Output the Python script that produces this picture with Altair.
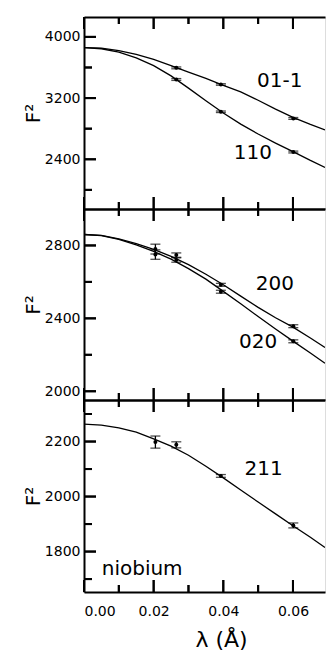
import altair as alt
import pandas as pd

FONT = "DejaVu Sans"
XMAX = 0.0692
W = 241

# ---- data ----
lam_curve = [0.0, 0.005, 0.010, 0.015, 0.020, 0.025, 0.030, 0.035, 0.040,
             0.045, 0.050, 0.055, 0.060, 0.065, 0.0692]
curve_011 = [3860, 3852, 3820, 3772, 3705, 3625, 3540, 3458, 3367, 3280, 3172, 3055, 2948, 2855, 2784]
curve_110 = [3860, 3845, 3800, 3725, 3625, 3490, 3330, 3165, 3005, 2860, 2730, 2612, 2500, 2385, 2294]
curve_200 = [2860, 2855, 2836, 2810, 2778, 2740, 2695, 2642, 2584, 2522, 2460, 2403, 2352, 2292, 2240]
curve_020 = [2860, 2854, 2833, 2803, 2767, 2725, 2673, 2615, 2548, 2480, 2410, 2342, 2275, 2210, 2154]
curve_211 = [2263, 2260, 2250, 2234, 2210, 2183, 2150, 2110, 2068, 2024, 1980, 1937, 1894, 1852, 1815]

lam_p1 = [0.0265, 0.0393, 0.0601]
pts_011 = [3595, 3378, 2934]
err_011 = [12, 10, 12]
pts_110 = [3443, 3021, 2495]
err_110 = [12, 10, 12]

lam_p = [0.0205, 0.0265, 0.0393, 0.0601]
pts_200 = [2780, 2747, 2584, 2357]
err_200 = [27, 12, 8, 8]
pts_020 = [2750, 2720, 2546, 2274]
err_020 = [26, 12, 8, 8]
pts_211 = [2198, 2188, 2075, 1895]
err_211 = [22, 11, 5, 9]

x_major = [0.0, 0.02, 0.04, 0.06]
x_minor = [0.01, 0.03, 0.05]

MAJOR_LEN = 12
MINOR_LEN_X = 7
MINOR_LEN_Y = 8


def curves(names, series):
    rows = []
    for n, ys in zip(names, series):
        for x, y in zip(lam_curve, ys):
            rows.append({"s": n, "x": x, "y": y})
    return pd.DataFrame(rows)


def points(names, lams, vals, errs):
    rows = []
    for n, v, e in zip(names, vals, errs):
        for x, y, d in zip(lams, v, e):
            rows.append({"s": n, "x": x, "y": y, "lo": y - d, "hi": y + d})
    return pd.DataFrame(rows)


def labels(texts, xs, ys):
    return pd.DataFrame({"t": texts, "x": xs, "y": ys})


def tick_table(ydom, ymaj, ymin, h):
    """Tick segments (in data units) derived from the tick value lists."""
    xpx = XMAX / W
    ypx = (ydom[1] - ydom[0]) / h
    rows = []
    for vals, L in ((ymaj, MAJOR_LEN), (ymin, MINOR_LEN_Y)):
        for v in vals:
            rows.append({"x0": 0.0, "x1": L * xpx, "y0": v, "y1": v,
                         "rx0": 0.0, "rx1": L * xpx, "ry0": v - ypx, "ry1": v + ypx})
    for vals, L in ((x_major, MAJOR_LEN), (x_minor, MINOR_LEN_X)):
        for v in vals:
            for edge, sgn in ((ydom[0], 1), (ydom[1], -1)):
                rows.append({"x0": v, "x1": v, "y0": edge, "y1": edge + sgn * L * ypx,
                             "rx0": max(v - xpx, 0.0), "rx1": v + xpx,
                             "ry0": edge, "ry1": edge + sgn * L * ypx})
    return pd.DataFrame(rows)


AX = dict(domainColor="black", domainWidth=2, ticks=False, grid=False,
          labelFont=FONT, labelFontSize=14, labelColor="black",
          titleFont=FONT, titleColor="black", titleFontWeight="normal")


def panel(cdf, pdf, ldf, ydom, ymaj, ymin, h, bottom):
    xs = alt.Scale(domain=[0, XMAX], nice=False, zero=False)
    ys = alt.Scale(domain=ydom, nice=False, zero=False)

    if bottom:
        ax_bot = alt.Axis(orient="bottom", values=x_major, labelPadding=12, format=".2f",
                          title="λ (Å)", titleFontSize=22, titleX=137, titlePadding=11, **AX)
    else:
        ax_bot = alt.Axis(orient="bottom", values=x_major, labels=False, title=None, **AX)
    ax_top = alt.Axis(orient="top", values=x_major, labels=False, title=None, **AX)
    ax_left = alt.Axis(orient="left", values=ymaj, labelPadding=4, format="d",
                       title="F²", titleFontSize=20, titlePadding=1, **AX)

    tdf = tick_table(ydom, ymaj, ymin, h)

    line = alt.Chart(cdf).mark_line(clip=True, color="black", strokeWidth=1.3).encode(
        x=alt.X("x:Q", scale=xs, axis=ax_bot),
        y=alt.Y("y:Q", scale=ys, axis=ax_left),
        detail="s:N",
    )
    tick_rule = alt.Chart(tdf).mark_rule(color="black", strokeWidth=2).encode(
        x=alt.X("x0:Q", scale=xs, axis=None), x2="x1:Q",
        y=alt.Y("y0:Q", scale=ys, axis=ax_left), y2="y1:Q",
    )
    tick_rect = alt.Chart(tdf).mark_rect(color="black").encode(
        x=alt.X("rx0:Q", scale=xs, axis=None), x2="rx1:Q",
        y=alt.Y("ry0:Q", scale=ys, axis=ax_left), y2="ry1:Q",
    )
    err = alt.Chart(pdf).mark_errorbar(ticks=alt.MarkConfig(size=10, color="black"),
                                       color="black", thickness=1.3).encode(
        x=alt.X("x:Q", scale=xs, axis=ax_top),
        y=alt.Y("lo:Q", scale=ys, axis=ax_left),
        y2="hi:Q",
    )
    pts = alt.Chart(pdf).mark_circle(color="black", size=16, opacity=1).encode(
        x=alt.X("x:Q", scale=xs, axis=None),
        y=alt.Y("y:Q", scale=ys, axis=ax_left),
    )
    txt = alt.Chart(ldf).mark_text(font=FONT, fontSize=20, color="black",
                                   align="center", baseline="middle").encode(
        x=alt.X("x:Q", scale=xs, axis=None),
        y=alt.Y("y:Q", scale=ys, axis=ax_left),
        text="t:N",
    )
    return alt.layer(line, tick_rule, tick_rect, err, pts, txt).resolve_axis(
        x="independent").properties(width=W, height=h)


p1 = panel(curves(["01-1", "110"], [curve_011, curve_110]),
           points(["01-1", "110"], lam_p1, [pts_011, pts_110], [err_011, err_110]),
           labels(["01-1", "110"], [0.0562, 0.0485], [3420, 2486]),
           [1750, 4260], [2400, 3200, 4000], [2000, 2800, 3600], 192, False)
p2 = panel(curves(["200", "020"], [curve_200, curve_020]),
           points(["200", "020"], lam_p, [pts_200, pts_020], [err_200, err_020]),
           labels(["200", "020"], [0.0548, 0.0500], [2590, 2272]),
           [1952, 3000], [2000, 2400, 2800], [2200, 2600], 191, False)
p3 = panel(curves(["211"], [curve_211]),
           points(["211"], lam_p, [pts_211], [err_211]),
           labels(["211", "niobium"], [0.0516, 0.0167], [2100, 1736]),
           [1653, 2351], [1800, 2000, 2200], [1700, 1900, 2100, 2300], 192, True)

chart = alt.vconcat(p1, p2, p3, spacing=0, bounds="flush").properties(
    padding={"left": 14, "top": 7, "right": 0, "bottom": 0}
).configure_view(stroke=None).configure(background="white")

chart.save("out.html", embed_options={"renderer": "svg", "actions": False})
